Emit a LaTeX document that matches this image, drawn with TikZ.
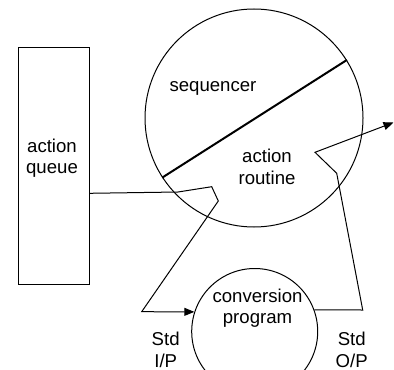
\documentclass[tikz,border=0pt]{standalone}
\usepackage{fontspec}
\setmainfont{Liberation Sans}
\usepackage{tikz}
\usetikzlibrary{positioning,arrows.meta}

\begin{document}
\begin{tikzpicture}[x=0.5pt,y=-0.5pt,
          every node/.style={font=\fontsize{9.3}{10.8}\selectfont,align=center},
          box/.style={draw,rectangle,line width=0.6pt,minimum width=35.5pt,
                      minimum height=118.5pt,inner sep=0pt},
          bubble/.style={draw,circle,line width=0.5pt,inner sep=0pt},
          link/.style={draw,line width=0.5pt},
          tip/.style={-{Triangle[length=5pt,width=4pt]}}]
        \useasboundingbox (0,0) rectangle (394,369);
        \node[box] (queue) at (53.7,165.8) {};
        \node (queuetext) at (52,158) {action\\queue};
        \node[bubble,minimum size=109pt] (seq) at (254,118) {};
        \node[bubble,minimum size=63pt] (conv) at (254.7,331.5) {};
        \draw[line width=1pt] (seq.213) -- (seq.32);
        \node (seqtext) at (213,88) {sequencer};
        \node (routine) at (267,167) {action\\routine};
        \node (convtext) at (257.5,308) {conversion\\program};
        \node (stdin) at (165.7,350) {Std\\I/P};
        \node (stdout) at (351.7,350) {Std\\O/P};
        \coordinate (qout) at (89.3,193.3);
        \coordinate (out) at (393.5,122.5);
        \draw[link,tip] (qout) -- (178,192) -- (211.7,186.7) -- (218.3,201)
              -- (141.7,311.7) -- (conv.162);
        \draw[link,tip] (conv.20) -- (362.7,310) -- (336.7,173.3)
              -- (315,152.3) -- (out);
      \end{tikzpicture}
\end{document}
